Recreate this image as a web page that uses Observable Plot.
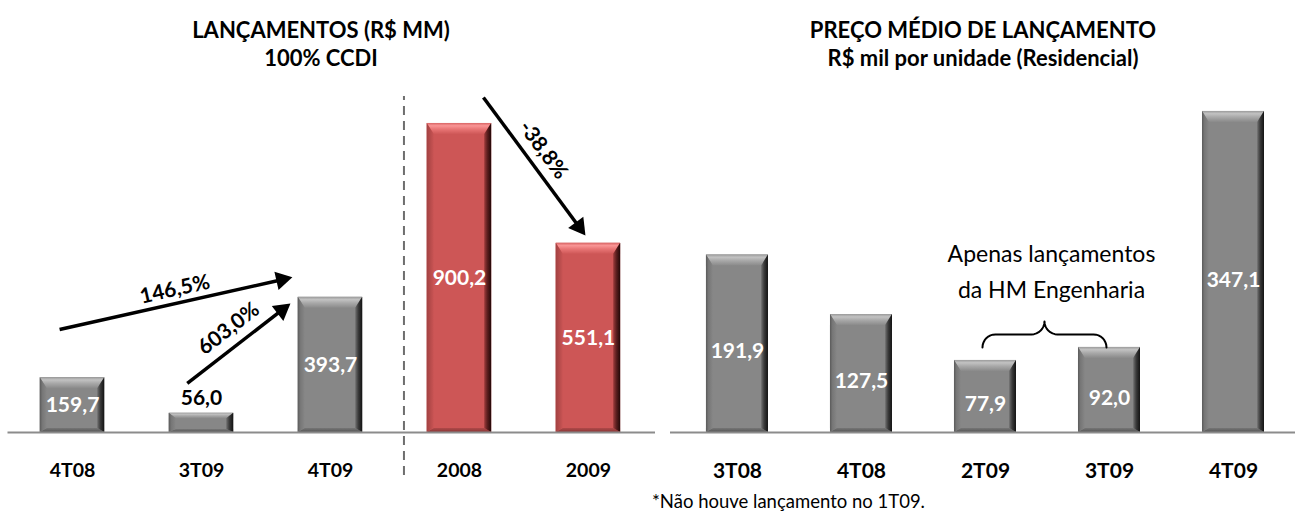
<!DOCTYPE html>
<html lang="pt-BR">
<head>
<meta charset="utf-8">
<title>Lançamentos e preço médio de lançamento</title>
<script src="https://cdn.jsdelivr.net/npm/d3@7"></script>
<script src="https://cdn.jsdelivr.net/npm/@observablehq/plot@0.6"></script>
<style>
  html, body { margin: 0; padding: 0; background: #fff; }
  #page { position: relative; width: 1295px; height: 514px; overflow: hidden;
          font-family: Lato, "Open Sans", sans-serif; color: #000; }
  .title { position: absolute; top: 16px; width: 560px; text-align: center;
           font-weight: 700; font-size: 22px; line-height: 28px; }
  .chart { position: absolute; top: 80px; }
  .note { position: absolute; left: 652px; top: 492px; font-size: 18.5px; line-height: 19px; }
  #defs { position: absolute; left: 0; top: 0; width: 0; height: 0; }
</style>
</head>
<body>
<div id="page">
  <svg id="defs"></svg>
  <div class="title" style="left:41px">LANÇAMENTOS (R$ MM)<br>100% CCDI</div>
  <div class="title" style="left:703px">PREÇO MÉDIO DE LANÇAMENTO<br>R$ mil por unidade (Residencial)</div>
  <div id="left" class="chart" style="left:0px"></div>
  <div id="right" class="chart" style="left:660px"></div>
  <div class="note">*Não houve lançamento no 1T09.</div>
</div>
<script>
// ---------- data ----------
const launchCategories = ["4T08", "3T09", "4T09", "2008", "2009"];
const launchValues = [159.7, 56.0, 393.7, 900.2, 551.1];
const launchPeriod = ["trimestre", "trimestre", "trimestre", "ano", "ano"];

const priceCategories = ["3T08", "4T08", "2T09", "3T09", "4T09"];
const priceValues = [191.9, 127.5, 77.9, 92.0, 347.1];

const growthLabels = ["146,5%", "603,0%", "-38,8%"];
const growthFrom = ["4T08", "3T09", "2008"];
const growthTo = ["4T09", "4T09", "2009"];

const braceNote = "Apenas lançamentos\nda HM Engenharia";
const braceFrom = "2T09";
const braceTo = "3T09";

// ---------- layout ----------
const H = 430;          // svg height
const BASE = 352;       // baseline (y = 0) inside the svg
const FONT = "Lato, 'Open Sans', sans-serif";
const fmt = v => v.toFixed(1).replace(".", ",");

// arrow geometry: offsets (in category steps) from the category centres, y in R$ MM
const arrowLayout = [
  {dx1: -0.10, y1: 300, dx2: -0.295, y2: 452, offset: 14, along: 2},
  {dx1: -0.11, y1: 143, dx2: -0.31, y2: 376, offset: 18, along: 1},
  {dx1: 0.186, y1: 976, dx2: -0.023, y2: 574, offset: 17, along: -8}
];

// ---------- gradients for the bevelled bars ----------
const palettes = {
  gray: {
    base: "#878787",
    top: [[0, "#9a9a9a"], [0.25, "#c2c2c2"], [0.55, "#a9a9a9"], [1, "#8a8a8a"]],
    left: [[0, "#5a5a5a"], [0.35, "#767676"], [1, "#868686"]],
    right: [[0, "#707070"], [0.45, "#3a3a3a"], [1, "#121212"]],
    bottom: [[0, "#767676"], [1, "#555555"]]
  },
  red: {
    base: "#cd5656",
    top: [[0, "#d86464"], [0.25, "#f99595"], [0.55, "#e97676"], [1, "#cf5858"]],
    left: [[0, "#a24141"], [1, "#c95454"]],
    right: [[0, "#9e3c3c"], [0.45, "#5c1f1f"], [1, "#220707"]],
    bottom: [[0, "#b04949"], [1, "#883636"]]
  }
};
const defs = d3.select("#defs").append("defs");
for (const [name, p] of Object.entries(palettes)) {
  for (const side of ["top", "left", "right", "bottom"]) {
    const vertical = side === "top" || side === "bottom";
    const g = defs.append("linearGradient").attr("id", `${name}-${side}`)
      .attr("x1", 0).attr("y1", 0).attr("x2", vertical ? 0 : 1).attr("y2", vertical ? 1 : 0);
    for (const [o, c] of p[side]) g.append("stop").attr("offset", o).attr("stop-color", c);
  }
}

// adds the bevel faces on top of every bar drawn with the given base colour
function addBevels(svg, paletteName) {
  const p = palettes[paletteName];
  svg.querySelectorAll(`g[fill="${p.base}"]`).forEach(group => {
    const layer = document.createElementNS("http://www.w3.org/2000/svg", "g");
    if (group.getAttribute("transform")) layer.setAttribute("transform", group.getAttribute("transform"));
    group.querySelectorAll("rect").forEach(r => {
      const x1 = +r.getAttribute("x"), y1 = +r.getAttribute("y");
      const w = +r.getAttribute("width"), h = +r.getAttribute("height");
      const x2 = x1 + w, y2 = y1 + h;
      const bt = Math.min(11, h * 0.28), bb = Math.min(4, h * 0.15), bs = Math.min(7, w * 0.11);
      const faces = {
        top: [[x1, y1], [x2, y1], [x2 - bs, y1 + bt], [x1 + bs, y1 + bt]],
        bottom: [[x1, y2], [x2, y2], [x2 - bs, y2 - bb], [x1 + bs, y2 - bb]],
        left: [[x1, y1], [x1 + bs, y1 + bt], [x1 + bs, y2 - bb], [x1, y2]],
        right: [[x2, y1], [x2 - bs, y1 + bt], [x2 - bs, y2 - bb], [x2, y2]]
      };
      for (const [side, pts] of Object.entries(faces)) {
        const poly = document.createElementNS("http://www.w3.org/2000/svg", "polygon");
        poly.setAttribute("points", pts.map(q => q.join(",")).join(" "));
        poly.setAttribute("fill", `url(#${paletteName}-${side})`);
        layer.appendChild(poly);
      }
    });
    group.parentNode.insertBefore(layer, group.nextSibling);
  });
}

// ---------- left chart: lançamentos ----------
{
  const W = 660, mL = 7.5, mR = 5;
  const k = 0.3433, yMax = 1000;
  const xOpt = {type: "linear", domain: [-0.5, 4.52], range: [mL, W - mR]};
  const yOpt = {type: "linear", domain: [0, yMax], range: [BASE, BASE - yMax * k]};
  const sx = Plot.scale({x: xOpt}), sy = Plot.scale({y: yOpt});

  const data = launchCategories.map((c, i) => ({i, category: c, value: launchValues[i], period: launchPeriod[i]}));
  const inside = d => sy.apply(0) - sy.apply(d.value) >= 30;
  const idx = c => launchCategories.indexOf(c);

  const arrows = growthLabels.map((label, j) => {
    const L = arrowLayout[j];
    const p1 = [sx.apply(idx(growthFrom[j]) + L.dx1), sy.apply(L.y1)];
    const tip = [sx.apply(idx(growthTo[j]) + L.dx2), sy.apply(L.y2)];
    const len = Math.hypot(tip[0] - p1[0], tip[1] - p1[1]);
    const ux = (tip[0] - p1[0]) / len, uy = (tip[1] - p1[1]) / len;
    const head = [tip[0] - ux * 10.9, tip[1] - uy * 10.9];
    const nx = uy, ny = -ux;
    const mid = [(p1[0] + tip[0]) / 2 + nx * L.offset + ux * L.along,
                 (p1[1] + tip[1]) / 2 + ny * L.offset + uy * L.along];
    return {
      label,
      x1: sx.invert(p1[0]), y1: L.y1,
      hx: sx.invert(head[0]), hy: sy.invert(head[1]),
      rot: Math.atan2(ux, -uy) * 180 / Math.PI,
      lx: sx.invert(mid[0]), ly: sy.invert(mid[1]),
      angle: Math.atan2(uy, ux) * 180 / Math.PI
    };
  });

  const chart = Plot.plot({
    width: W, height: H,
    marginLeft: mL, marginRight: mR, marginTop: BASE - yMax * k, marginBottom: H - BASE,
    x: xOpt, y: {...yOpt, axis: null},
    style: {fontFamily: FONT, background: "transparent", overflow: "visible", color: "#000"},
    marks: [
      Plot.ruleX([2.5], {y1: sy.invert(BASE + 43), y2: sy.invert(16), dx: 9,
        stroke: "#6e6e6e", strokeWidth: 2, strokeDasharray: "9,6"}),
      Plot.rectY(data.filter(d => d.period === "trimestre"),
        {x1: d => d.i - 0.25, x2: d => d.i + 0.25, y1: 0, y2: "value", fill: palettes.gray.base}),
      Plot.rectY(data.filter(d => d.period === "ano"),
        {x1: d => d.i - 0.25, x2: d => d.i + 0.25, y1: 0, y2: "value", fill: palettes.red.base}),
      Plot.ruleY([0], {stroke: "#8c8c8c", strokeWidth: 2}),
      Plot.axisX({ticks: d3.range(launchCategories.length), tickFormat: i => launchCategories[i],
        tickSize: 0, tickPadding: 31, fontSize: 19.5, fontWeight: "bold", fill: "#000", label: null}),
      Plot.text(data.filter(inside), {x: "i", y: d => d.value / 2, text: d => fmt(d.value),
        fill: "white", fontSize: 21, fontWeight: "bold"}),
      Plot.text(data.filter(d => !inside(d)), {x: "i", y: "value", dy: -15, text: d => fmt(d.value),
        fill: "black", fontSize: 21, fontWeight: "bold"}),
      Plot.link(arrows, {x1: "x1", y1: "y1", x2: "hx", y2: "hy", stroke: "black", strokeWidth: 3.5}),
      Plot.dot(arrows, {x: "hx", y: "hy", symbol: "triangle", r: 7, fill: "black", stroke: "none", rotate: "rot"}),
      Plot.text(arrows, {x: "lx", y: "ly", text: "label", rotate: "angle", fontSize: 21, fontWeight: "bold",
        fill: "black", textAnchor: "middle", lineAnchor: "middle"})
    ]
  });
  addBevels(chart, "gray");
  addBevels(chart, "red");
  document.getElementById("left").appendChild(chart);
}

// ---------- right chart: preço médio de lançamento ----------
{
  const W = 635, mL = 10, mR = 0;
  const k = 0.925, yMax = 370;
  const xOpt = {type: "linear", domain: [-0.54, 4.5], range: [mL, W - mR]};
  const yOpt = {type: "linear", domain: [0, yMax], range: [BASE, BASE - yMax * k]};
  const sx = Plot.scale({x: xOpt}), sy = Plot.scale({y: yOpt});

  const data = priceCategories.map((c, i) => ({i, category: c, value: priceValues[i]}));

  // curly brace spanning the two HM Engenharia quarters
  const i1 = priceCategories.indexOf(braceFrom), i2 = priceCategories.indexOf(braceTo);
  const xa = sx.apply(i1) - 3, xb = sx.apply(i2) - 3, xm = (xa + xb) / 2;
  const yb = sy.apply(Math.max(priceValues[i1], priceValues[i2]));
  const r = 13, yh = yb - r;
  const arc = (cx, cy, a0, a1) => d3.range(9).map(s => {
    const a = (a0 + (a1 - a0) * s / 8) * Math.PI / 180;
    return [cx + r * Math.cos(a), cy + r * Math.sin(a)];
  });
  const bracePx = [
    ...arc(xa + r, yb, 180, 270),
    ...arc(xm - r, yh - r, 90, 0),
    ...arc(xm + r, yh - r, 180, 90),
    ...arc(xb - r, yb, 270, 360)
  ];
  const brace = bracePx.map(([px, py]) => ({x: sx.invert(px), y: sy.invert(py)}));
  const tipY = sy.invert(yh - r);
  const note = [{x: sx.invert(xm), y: tipY, text: braceNote}];

  const chart = Plot.plot({
    width: W, height: H,
    marginLeft: mL, marginRight: mR, marginTop: BASE - yMax * k, marginBottom: H - BASE,
    x: xOpt, y: {...yOpt, axis: null},
    style: {fontFamily: FONT, background: "transparent", overflow: "visible", color: "#000"},
    marks: [
      Plot.rectY(data, {x1: d => d.i - 0.25, x2: d => d.i + 0.25, y1: 0, y2: "value", fill: palettes.gray.base}),
      Plot.ruleY([0], {stroke: "#8c8c8c", strokeWidth: 2}),
      Plot.axisX({ticks: d3.range(priceCategories.length), tickFormat: i => priceCategories[i],
        tickSize: 0, tickPadding: 30.5, fontSize: 21, fontWeight: "bold", fill: "#000", label: null}),
      Plot.text(data, {x: "i", y: d => d.value / 2, dy: 8, text: d => fmt(d.value),
        fill: "white", fontSize: 21, fontWeight: "bold"}),
      Plot.line(brace, {x: "x", y: "y", stroke: "black", strokeWidth: 2}),
      Plot.text(note, {x: "x", y: "y", text: "text", dx: 7, dy: -53, fontSize: 23, lineHeight: 1.57,
        fill: "black", textAnchor: "middle", lineAnchor: "middle"})
    ]
  });
  addBevels(chart, "gray");
  document.getElementById("right").appendChild(chart);
}
</script>
</body>
</html>
